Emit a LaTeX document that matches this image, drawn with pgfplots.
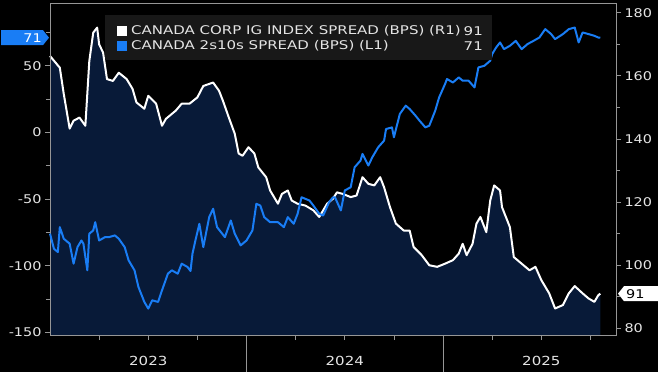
\documentclass[border=0pt]{standalone}
\usepackage{pgfplots}
\pgfplotsset{compat=1.18}
\usepackage{pgfplotstable}
\usepackage{fontspec}
\setmainfont{DejaVu Sans}[FakeStretch=1.2]
\newfontfamily\legfont{DejaVu Sans}[FakeStretch=1.25]
\usetikzlibrary{calc}
\definecolor{navy}{RGB}{8,26,56}
\definecolor{bblue}{RGB}{25,125,245}
\definecolor{axgray}{RGB}{150,150,150}
\definecolor{txt}{RGB}{228,228,228}
\definecolor{legbg}{RGB}{24,24,24}

% x = fractional year
\pgfplotstableread{
x y
2023.00 166.3
2023.05 162.6
2023.07 154.3
2023.10 143.3
2023.12 145.8
2023.15 146.8
2023.18 144.2
2023.20 164.7
2023.22 173.7
2023.24 175.3
2023.25 170.0
2023.27 167.4
2023.29 159.0
2023.32 158.4
2023.35 161.0
2023.39 159.0
2023.42 155.9
2023.44 151.6
2023.48 149.6
2023.50 153.7
2023.54 151.2
2023.57 144.2
2023.59 146.4
2023.64 149.0
2023.67 151.2
2023.71 151.2
2023.75 153.2
2023.78 156.8
2023.83 157.9
2023.86 155.3
2023.88 152.1
2023.91 146.8
2023.94 141.7
2023.96 135.4
2023.98 134.7
2024.01 137.4
2024.04 135.4
2024.06 131.0
2024.10 127.9
2024.12 123.7
2024.16 119.5
2024.18 122.6
2024.21 123.7
2024.23 120.5
2024.26 119.5
2024.30 118.9
2024.34 117.4
2024.37 115.3
2024.41 119.5
2024.44 121.1
2024.46 123.1
2024.49 122.6
2024.53 121.6
2024.56 122.1
2024.59 127.9
2024.62 125.8
2024.65 125.3
2024.68 127.9
2024.70 124.7
2024.73 118.4
2024.76 113.2
2024.80 111.0
2024.83 111.0
2024.85 105.8
2024.89 103.3
2024.93 100.0
2024.97 99.5
2025.01 100.5
2025.05 101.6
2025.08 103.7
2025.10 106.8
2025.12 103.2
2025.15 106.8
2025.17 113.2
2025.19 115.3
2025.22 110.5
2025.24 120.5
2025.26 125.3
2025.29 123.7
2025.30 118.4
2025.34 112.1
2025.36 102.6
2025.40 100.5
2025.44 98.4
2025.47 99.5
2025.50 95.3
2025.54 91.1
2025.57 86.3
2025.61 87.4
2025.64 91.1
2025.67 93.4
2025.71 91.1
2025.74 89.5
2025.77 88.4
2025.79 90.5
2025.80 91.0
}\igdata

\pgfplotstableread{
x y
2023.00 -76.0
2023.02 -87.3
2023.04 -89.8
2023.05 -71.1
2023.07 -79.8
2023.10 -83.5
2023.12 -98.5
2023.14 -86.1
2023.16 -81.1
2023.17 -83.5
2023.19 -103.5
2023.20 -76.0
2023.22 -73.6
2023.23 -67.4
2023.25 -81.1
2023.28 -78.6
2023.30 -78.6
2023.33 -77.3
2023.35 -79.8
2023.38 -86.1
2023.40 -96.0
2023.43 -103.5
2023.45 -116.0
2023.48 -127.2
2023.50 -132.2
2023.52 -126.0
2023.55 -127.2
2023.57 -118.5
2023.60 -106.0
2023.62 -103.5
2023.65 -106.0
2023.67 -98.5
2023.70 -101.0
2023.715 -104.0
2023.725 -91.0
2023.74 -81.1
2023.76 -68.6
2023.78 -86.1
2023.81 -63.6
2023.83 -57.3
2023.85 -71.1
2023.89 -78.6
2023.92 -66.1
2023.94 -76.0
2023.97 -84.8
2024.00 -81.1
2024.03 -73.6
2024.05 -53.6
2024.07 -54.9
2024.09 -63.6
2024.12 -67.4
2024.16 -67.4
2024.19 -71.1
2024.21 -63.6
2024.24 -68.6
2024.26 -61.1
2024.28 -48.7
2024.32 -51.1
2024.34 -54.9
2024.37 -61.1
2024.39 -62.4
2024.42 -52.4
2024.44 -48.7
2024.45 -48.7
2024.48 -58.6
2024.50 -43.6
2024.53 -41.2
2024.55 -26.2
2024.58 -21.2
2024.59 -16.2
2024.62 -24.9
2024.64 -18.7
2024.67 -11.2
2024.70 -6.2
2024.71 2.5
2024.74 3.7
2024.75 -3.7
2024.78 13.8
2024.81 20.0
2024.83 17.5
2024.86 12.5
2024.88 8.8
2024.91 3.7
2024.93 5.0
2024.96 16.2
2024.98 26.2
2025.01 36.2
2025.02 40.0
2025.05 37.4
2025.08 41.2
2025.10 38.7
2025.13 38.7
2025.16 33.7
2025.18 48.7
2025.21 49.9
2025.24 53.7
2025.25 58.7
2025.27 63.6
2025.29 67.4
2025.31 62.4
2025.34 64.9
2025.37 68.6
2025.40 62.4
2025.43 66.2
2025.46 68.6
2025.49 71.1
2025.52 77.4
2025.55 73.7
2025.57 69.9
2025.61 73.7
2025.64 77.4
2025.67 78.6
2025.69 67.4
2025.71 74.9
2025.74 73.7
2025.77 72.4
2025.79 71.1
2025.80 71.0
}\curvedata

\pgfplotsset{
  common/.style={
    at={(50pt,37pt)}, anchor=south west,
    width=566pt, height=332pt, scale only axis,
    xmin=0, xmax=2.88,
    axis line style={axgray, line width=0.8pt},
    tick style={axgray, line width=0.8pt},
    tick align=outside,
    major tick length=5pt, minor tick length=4pt,
    tick label style={text=txt, font=\fontsize{12}{14}\selectfont},
    /pgf/number format/assume math mode=true,
    clip=false,
  }
}

\begin{document}
\begin{tikzpicture}
\fill[black] (0pt,0pt) rectangle (658pt,372pt);
% right axis: IG spread
\begin{axis}[common,
  ymin=77.9, ymax=183.1,
  ytick={80,100,120,140,160,180},
  minor ytick={90,110,130,150,170},
  ytick pos=right, yticklabel pos=right,
  xtick=\empty,
]
\addplot[fill=navy, draw=none] table[x expr=\thisrow{x}-2023,y=y] {\igdata} \closedcycle;
\addplot[white, line width=2pt, line join=round] table[x expr=\thisrow{x}-2023,y=y] {\igdata};
\coordinate (t91) at (axis cs:2.88,91);
\end{axis}
% left axis: 2s10s
\begin{axis}[common,
  ymin=-152, ymax=97,
  ytick={-150,-100,-50,0,50},
  minor ytick={-125,-75,-25,25,75},
  ytick pos=left,
  xtick pos=bottom,
  xtick={0.25,0.5,0.75,1.25,1.5,1.75,2.25,2.5,2.75},
  xticklabels={},
  x tick style={line width=0.8pt},
  extra x ticks={0.5,1.5,2.5},
  extra x tick labels={2023,2024,2025},
  extra x tick style={tick style={draw=none},
    tick label style={font=\fontsize{12.5}{14}\selectfont, yshift=-13pt}},
]
\addplot[bblue, line width=2pt, line join=round] table[x expr=\thisrow{x}-2023,y=y] {\curvedata};
\draw[axgray, line width=0.8pt] (axis cs:1,-152) -- ++(0pt,-37pt);
\draw[axgray, line width=0.8pt] (axis cs:2,-152) -- ++(0pt,-37pt);
\coordinate (t71) at (axis cs:0,71);
\end{axis}
% legend
\fill[legbg] (105pt,312pt) rectangle (492pt,357pt);
\fill[white] (117pt,336pt) rectangle (127pt,346pt);
\fill[bblue] (117pt,321pt) rectangle (127pt,331pt);
\node[anchor=west, text=txt, inner sep=0pt, font=\legfont\fontsize{12}{14}\selectfont] at (131pt,341pt) {CANADA CORP IG INDEX SPREAD (BPS) (R1)};
\node[anchor=west, text=txt, inner sep=0pt, font=\legfont\fontsize{12}{14}\selectfont] at (131pt,326pt) {CANADA 2s10s SPREAD (BPS) (L1)};
\node[anchor=east, text=txt, inner sep=0pt, font=\legfont\fontsize{12}{14}\selectfont] at (483pt,341pt) {91};
\node[anchor=east, text=txt, inner sep=0pt, font=\legfont\fontsize{12}{14}\selectfont] at (483pt,326pt) {71};
% value tags
\fill[bblue] ($(t71)+(-1pt,0pt)$) -- ++(-6pt,7.5pt) -- ($(t71)+(-49pt,7.5pt)$) -- ($(t71)+(-49pt,-7.5pt)$) -- ($(t71)+(-7pt,-7.5pt)$) -- cycle;
\node[anchor=east, text=white, inner sep=0pt, font=\fontsize{12}{14}\selectfont] at ($(t71)+(-8pt,0pt)$) {71};
\fill[white] ($(t91)+(2pt,0pt)$) -- ++(6pt,7.5pt) -- ($(t91)+(42pt,7.5pt)$) -- ($(t91)+(42pt,-7.5pt)$) -- ($(t91)+(8pt,-7.5pt)$) -- cycle;
\node[anchor=west, text=black, inner sep=0pt, font=\fontsize{12}{14}\selectfont] at ($(t91)+(10pt,0pt)$) {91};
\end{tikzpicture}
\end{document}
